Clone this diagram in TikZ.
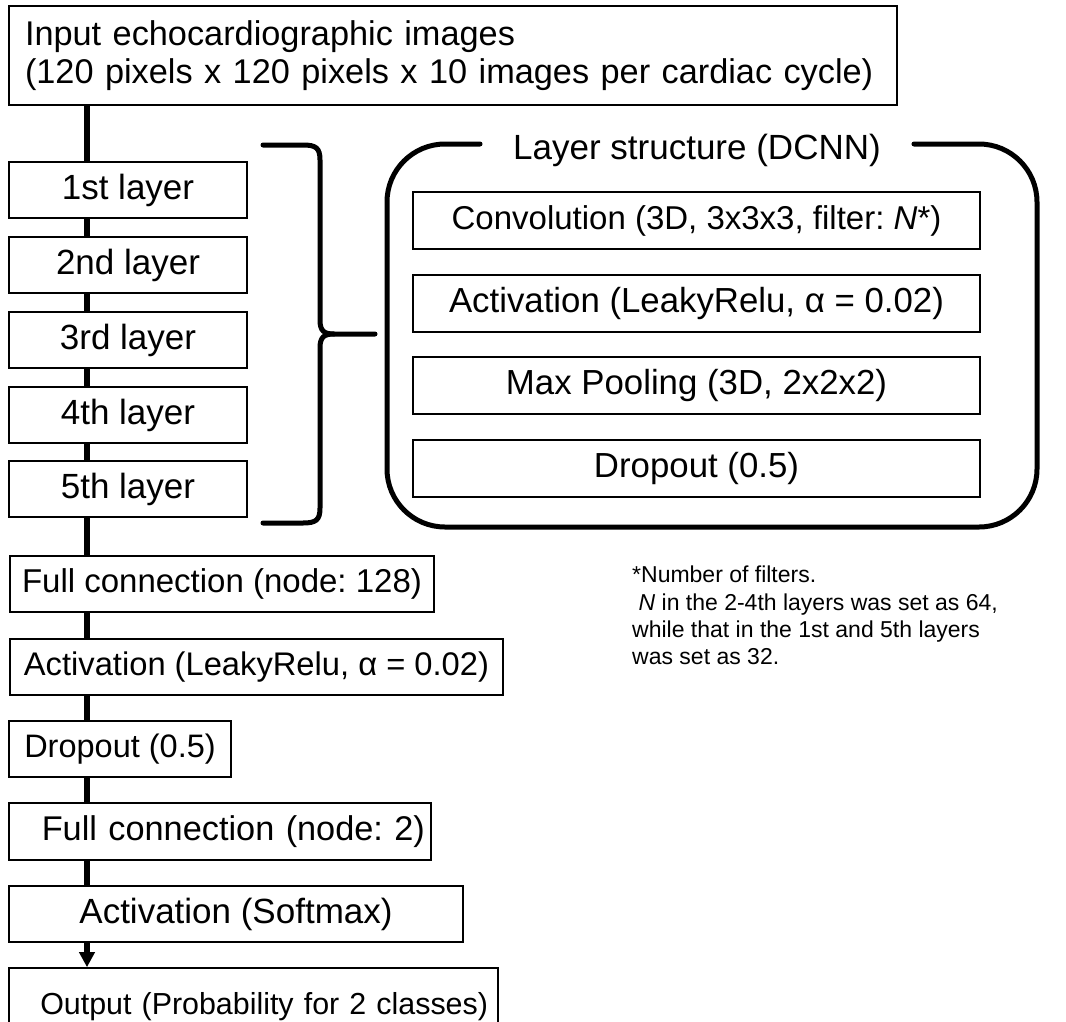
\documentclass[tikz,border=0pt]{standalone}
\usepackage{fontspec}
\setmainfont{Liberation Sans}
\usetikzlibrary{arrows.meta}
\frenchspacing
\begin{document}
\begin{tikzpicture}[x=1pt,y=-1pt,
  box/.style={draw,line width=1.6pt,fill=white,inner sep=0pt,align=center,
    font=\fontsize{33}{39}\selectfont},
  lay/.style={box,minimum width=238pt,minimum height=56pt,font=\fontsize{35}{40}\selectfont},
  inn/.style={box,minimum width=567pt,minimum height=57pt,font=\fontsize{34.8}{40}\selectfont},
  conn/.style={line width=6pt},
  thick5/.style={line width=5pt,line cap=round,line join=round}]
\useasboundingbox (0,0) rectangle (1066,1021);
\coordinate (spine) at (87,0);
% left column
\node[box,text width=856pt,inner xsep=16pt,minimum height=99pt,align=left,
  font=\fontsize{34.3}{38}\selectfont] (input) at (453,55.5)
  {Input echocardiographic images\\(120 pixels x 120 pixels x 10 images per cardiac cycle)};
\node[lay] (l1) at (128,190) {1st layer};
\node[lay] (l2) at (128,265) {2nd layer};
\node[lay] (l3) at (128,340) {3rd layer};
\node[lay] (l4) at (128,415) {4th layer};
\node[lay] (l5) at (128,489) {5th layer};
\node[box,minimum width=424pt,minimum height=56pt] (fc1) at (222,584) {Full connection (node: 128)};
\node[box,minimum width=493pt,minimum height=56pt,font=\fontsize{32.7}{39}\selectfont] (act) at (256.5,667) {Activation (LeakyRelu, α = 0.02)};
\node[box,minimum width=222pt,minimum height=56pt,font=\fontsize{32.5}{39}\selectfont] (drop) at (120,749) {Dropout (0.5)};
\node[box,text width=410pt,inner xsep=6pt,align=right,minimum height=57pt,font=\fontsize{34.3}{39}\selectfont] (fc2) at (220,831.5) {Full connection (node: 2)};
\node[box,minimum width=454pt,minimum height=56pt,font=\fontsize{35}{40}\selectfont] (soft) at (236,914) {Activation (Softmax)};
\node[box,text width=469pt,inner xsep=10pt,align=right,minimum height=78pt,font=\fontsize{30.4}{36}\selectfont] (out) at (253.5,1007) {Output (Probability for 2 classes)};
% spine
\foreach \a/\b in {input/l1,l1/l2,l2/l3,l3/l4,l4/l5,l5/fc1,fc1/act,act/drop,drop/fc2,fc2/soft}
  \draw[conn] (\a.south -| spine) -- (\b.north -| spine);
\draw[conn,-{Triangle[length=15pt,width=15pt]}] (soft.south -| spine) -- (out.north -| spine);
% brace
\coordinate (btip) at (375,334);
\draw[thick5] (263,145) -- (303,145) .. controls (316,145) and (320,148) .. (320,160)
  -- (320,320) .. controls (320,331) and (324,334) .. (334,334) -- (btip);
\draw[thick5] (334,334) .. controls (324,334) and (320,337) .. (320,348)
  -- (320,508) .. controls (320,520) and (316,523) .. (303,523) -- (263,523);
% layer structure
\node[font=\fontsize{35}{40}\selectfont,inner xsep=33pt,inner ysep=0pt] (title) at (697,150) {Layer structure (DCNN)};
\draw[thick5,rounded corners=58pt] (title.west |- 0,144) -- (387,144) -- (387,527) -- (1037,527) -- (1037,144) -- (title.east |- 0,144);
\node[inn,font=\fontsize{33}{39}\selectfont] (conv) at (696.5,220.5) {Convolution (3D, 3x3x3, filter: \textit{N}*)};
\node[inn] (iact) at (696.5,303.5) {Activation (LeakyRelu, α = 0.02)};
\node[inn] (imax) at (696.5,385.5) {Max Pooling (3D, 2x2x2)};
\node[inn] (idrop) at (696.5,468.5) {Dropout (0.5)};
% footnote
\node[anchor=north west,inner sep=0pt,align=left,font=\fontsize{23}{27.3}\selectfont] (note) at (632,566)
  {*Number of filters.\\\hspace{0.28em}\textit{N} in the 2-4th layers was set as 64,\\while that in the 1st and 5th layers\\was set as 32.};
\end{tikzpicture}
\end{document}
